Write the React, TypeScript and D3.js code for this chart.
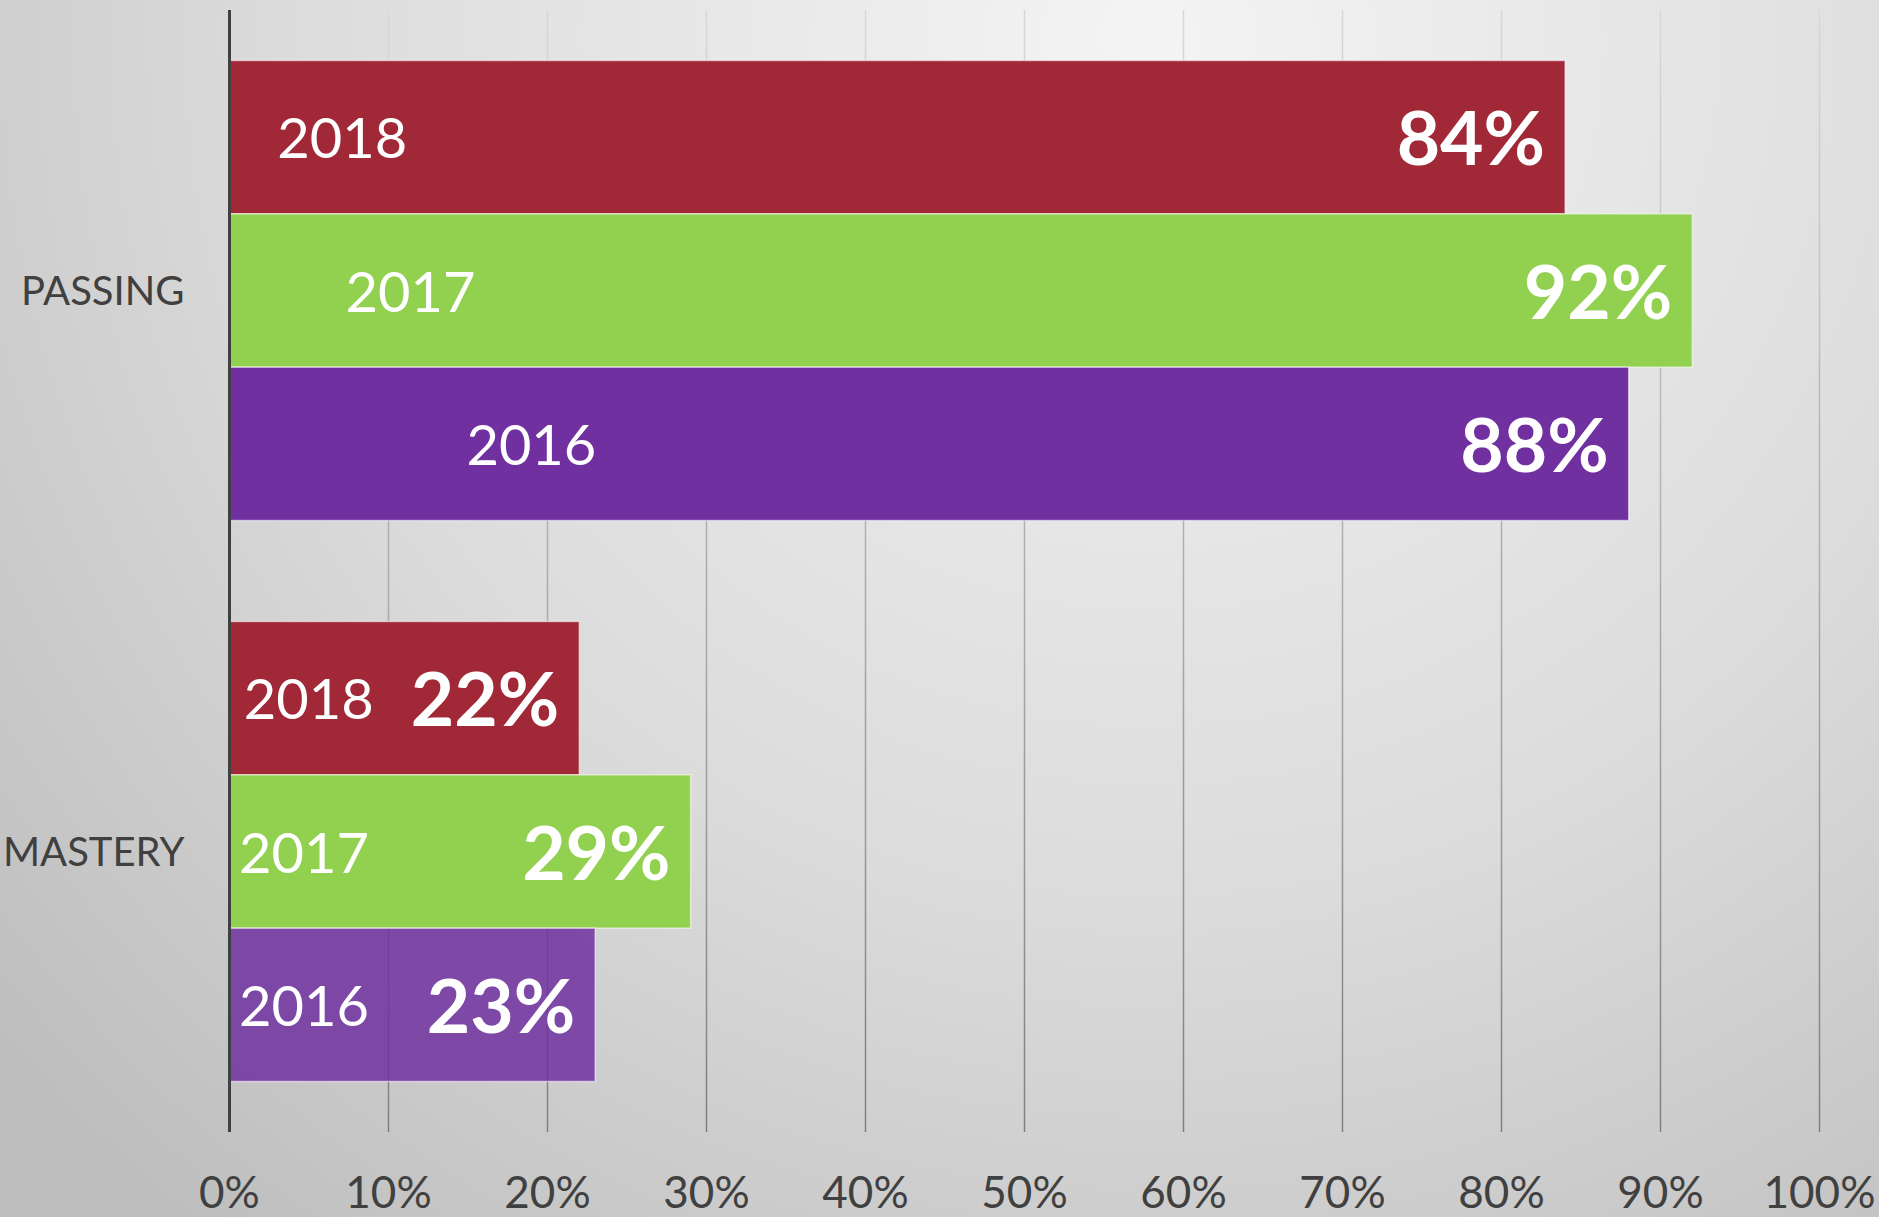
import React, { useEffect, useRef } from "react";
import * as d3 from "d3";

const categories = ["PASSING", "MASTERY"];
const years = ["2018", "2017", "2016"];
const values2018 = [84, 22];
const values2017 = [92, 29];
const values2016 = [88, 23];
const tickValues = [0, 10, 20, 30, 40, 50, 60, 70, 80, 90, 100];

const yearColors = { "2018": "#A02837", "2017": "#92D050", "2016": "#7030A0" };
// year labels were hand placed in the original, offset from the axis (in % units)
const yearLabelOffsets = {
  PASSING: [3.0, 7.3, 14.9],
  MASTERY: [0.9, 0.6, 0.6],
};

const WIDTH = 1879;
const HEIGHT = 1217;
const FONT = "Lato, 'Open Sans', sans-serif";

const App = () => {
  const ref = useRef(null);

  useEffect(() => {
    document.body.style.margin = "0";
    const svg = d3.select(ref.current);
    svg.selectAll("*").remove();

    const x = d3.scaleLinear().domain([0, 100]).range([229.5, 1819.5]);
    const y0 = d3
      .scaleBand()
      .domain(categories)
      .range([10, 1132])
      .paddingInner(0.18)
      .paddingOuter(0.09);
    const y1 = d3.scaleBand().domain(years).range([0, y0.bandwidth()]);

    const rows = categories.flatMap((c, i) => [
      { cat: c, year: "2018", value: values2018[i], idx: 0 },
      { cat: c, year: "2017", value: values2017[i], idx: 1 },
      { cat: c, year: "2016", value: values2016[i], idx: 2 },
    ]);

    const defs = svg.append("defs");
    const bg = defs
      .append("radialGradient")
      .attr("id", "bg")
      .attr("gradientUnits", "userSpaceOnUse")
      .attr("cx", 1150)
      .attr("cy", 40)
      .attr("r", 1550);
    bg.append("stop").attr("offset", "0%").attr("stop-color", "#f4f4f4");
    bg.append("stop").attr("offset", "55%").attr("stop-color", "#dcdcdc");
    bg.append("stop").attr("offset", "100%").attr("stop-color", "#bdbdbd");

    const grid = defs
      .append("linearGradient")
      .attr("id", "grid")
      .attr("gradientUnits", "userSpaceOnUse")
      .attr("x1", 0)
      .attr("y1", 10)
      .attr("x2", 0)
      .attr("y2", 1132);
    grid.append("stop").attr("offset", "0%").attr("stop-color", "#d8d8d8");
    grid.append("stop").attr("offset", "100%").attr("stop-color", "#808080");

    svg
      .append("rect")
      .attr("width", WIDTH)
      .attr("height", HEIGHT)
      .attr("fill", "url(#bg)");

    // gridlines
    svg
      .append("g")
      .selectAll("line")
      .data(tickValues.filter(t => t > 0))
      .enter()
      .append("line")
      .attr("x1", d => x(d))
      .attr("x2", d => x(d))
      .attr("y1", 10)
      .attr("y2", 1132)
      .attr("stroke", "url(#grid)")
      .attr("stroke-width", 1.5);

    // bars
    const bars = svg.append("g");
    bars
      .selectAll("rect")
      .data(rows)
      .enter()
      .append("rect")
      .attr("x", x(0))
      .attr("y", d => y0(d.cat) + y1(d.year))
      .attr("width", d => x(d.value) - x(0))
      .attr("height", y1.bandwidth())
      .attr("fill", d => yearColors[d.year])
      .attr("fill-opacity", d => (d.cat === "MASTERY" && d.year === "2016" ? 0.85 : 1))
      .attr("stroke", "rgba(255,255,255,0.55)")
      .attr("stroke-width", 1.5);

    // axis line
    svg
      .append("line")
      .attr("x1", x(0))
      .attr("x2", x(0))
      .attr("y1", 10)
      .attr("y2", 1132)
      .attr("stroke", "#404040")
      .attr("stroke-width", 3);

    // year labels
    bars
      .selectAll("text.year")
      .data(rows)
      .enter()
      .append("text")
      .attr("class", "year")
      .attr("x", d => x(yearLabelOffsets[d.cat][d.idx]))
      .attr("y", d => y0(d.cat) + y1(d.year) + y1.bandwidth() / 2 + 21)
      .attr("fill", "#ffffff")
      .style("font-family", FONT)
      .style("font-size", "56px")
      .text(d => d.year);

    // value labels
    bars
      .selectAll("text.value")
      .data(rows)
      .enter()
      .append("text")
      .attr("class", "value")
      .attr("x", d => x(d.value) - 20)
      .attr("y", d => y0(d.cat) + y1(d.year) + y1.bandwidth() / 2 + 28)
      .attr("text-anchor", "end")
      .attr("fill", "#ffffff")
      .style("font-family", FONT)
      .style("font-weight", "bold")
      .style("font-size", "75px")
      .text(d => d.value + "%");

    // category labels
    svg
      .append("g")
      .selectAll("text")
      .data(categories)
      .enter()
      .append("text")
      .attr("x", x(0) - 45)
      .attr("y", d => y0(d) + y0.bandwidth() / 2 + 14)
      .attr("text-anchor", "end")
      .attr("fill", "#404040")
      .style("font-family", FONT)
      .style("font-size", "40px")
      .text(d => d);

    // tick labels
    svg
      .append("g")
      .selectAll("text")
      .data(tickValues)
      .enter()
      .append("text")
      .attr("x", d => x(d))
      .attr("y", 1208)
      .attr("text-anchor", "middle")
      .attr("fill", "#404040")
      .style("font-family", FONT)
      .style("font-size", "44px")
      .text(d => d + "%");
  }, []);

  return (
    <div>
      <svg ref={ref} width={WIDTH} height={HEIGHT} style={{ display: "block" }} />
    </div>
  );
};

export default App;
